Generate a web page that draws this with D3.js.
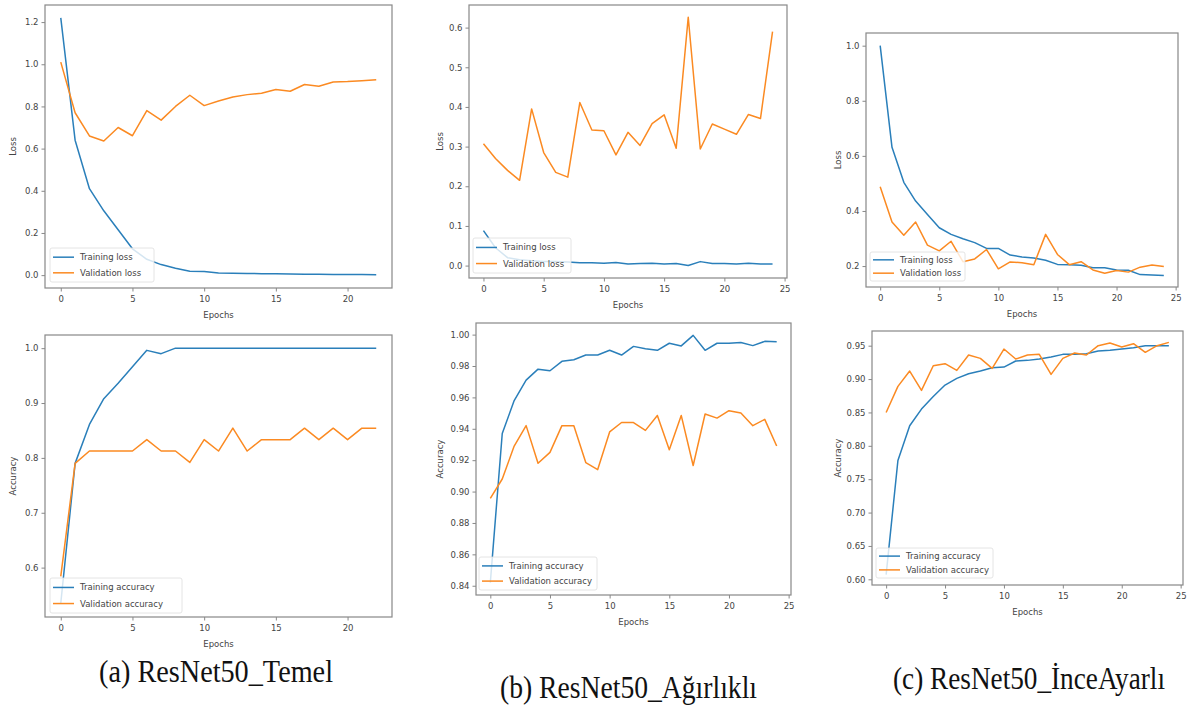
<!DOCTYPE html>
<html><head><meta charset="utf-8">
<script src="https://cdn.jsdelivr.net/npm/d3@7"></script>
<style>body{margin:0;background:#fff}svg{display:block}</style></head>
<body><svg id="c" width="1192" height="707"></svg>
<script>
// ---------- data ----------
const tempTrainLoss = [1.22,0.64,0.41,0.305,0.215,0.125,0.075,0.05,0.033,0.018,0.017,0.01,0.009,0.008,0.007,0.006,0.005,0.004,0.004,0.003,0.003,0.003,0.002];
const tempValLoss   = [1.01,0.77,0.66,0.636,0.70,0.661,0.78,0.735,0.80,0.853,0.804,0.826,0.845,0.856,0.863,0.88,0.872,0.904,0.896,0.916,0.918,0.922,0.927];
const tempTrainAcc  = [0.535,0.79,0.861,0.908,0.936,0.966,0.996,0.99,1.0,1.0,1.0,1.0,1.0,1.0,1.0,1.0,1.0,1.0,1.0,1.0,1.0,1.0,1.0];
const tempValAcc    = [0.584,0.79,0.8125,0.8125,0.8125,0.8125,0.8333,0.8125,0.8125,0.7917,0.8333,0.8125,0.8542,0.8125,0.8333,0.8333,0.8333,0.8542,0.8333,0.8542,0.8333,0.8542,0.8542];

const agirTrainLoss = [0.088,0.045,0.02,0.015,0.012,0.01,0.01,0.009,0.007,0.007,0.006,0.008,0.004,0.005,0.006,0.004,0.005,0.0,0.01,0.005,0.005,0.004,0.006,0.004,0.004];
const agirValLoss   = [0.307,0.27,0.24,0.215,0.395,0.285,0.235,0.223,0.411,0.342,0.34,0.279,0.336,0.303,0.358,0.38,0.296,0.626,0.294,0.357,0.344,0.331,0.381,0.371,0.59];
const agirTrainAcc  = [0.842,0.937,0.958,0.971,0.978,0.977,0.983,0.984,0.987,0.987,0.99,0.987,0.9925,0.991,0.99,0.9945,0.9928,0.9995,0.99,0.9945,0.9945,0.995,0.993,0.9957,0.9955];
const agirValAcc    = [0.8957,0.908,0.929,0.942,0.918,0.925,0.942,0.942,0.9185,0.914,0.938,0.944,0.944,0.939,0.9485,0.9266,0.9485,0.9166,0.9494,0.9468,0.9515,0.95,0.942,0.946,0.929];

const inceTrainLoss = [1.0,0.631,0.504,0.436,0.387,0.339,0.315,0.299,0.285,0.264,0.264,0.24,0.233,0.229,0.221,0.206,0.205,0.203,0.194,0.194,0.186,0.185,0.169,0.168,0.166];
const inceValLoss   = [0.488,0.36,0.312,0.36,0.276,0.255,0.29,0.216,0.226,0.26,0.19,0.215,0.212,0.205,0.315,0.242,0.205,0.216,0.186,0.174,0.184,0.178,0.196,0.204,0.198];
const inceTrainAcc  = [0.607,0.778,0.83,0.855,0.874,0.891,0.901,0.908,0.912,0.917,0.918,0.927,0.928,0.93,0.933,0.937,0.937,0.938,0.942,0.943,0.945,0.947,0.95,0.95,0.95];
const inceValAcc    = [0.85,0.889,0.912,0.883,0.92,0.923,0.913,0.936,0.931,0.916,0.945,0.93,0.936,0.937,0.907,0.931,0.939,0.936,0.95,0.954,0.948,0.953,0.94,0.95,0.955];

const xTicksA   = [0,5,10,15,20];
const xTicksBC  = [0,5,10,15,20,25];
const lossTicksA = [0.0,0.2,0.4,0.6,0.8,1.0,1.2];
const accTicksA  = [0.6,0.7,0.8,0.9,1.0];
const lossTicksB = [0.0,0.1,0.2,0.3,0.4,0.5,0.6];
const accTicksB  = [0.84,0.86,0.88,0.90,0.92,0.94,0.96,0.98,1.00];
const lossTicksC = [0.2,0.4,0.6,0.8,1.0];
const accTicksC  = [0.60,0.65,0.70,0.75,0.80,0.85,0.90,0.95];

const lossNames = ['Training loss','Validation loss'];
const accNames  = ['Training accuracy','Validation accuracy'];
const captions  = ['(a) ResNet50_Temel','(b) ResNet50_Ağırlıklı','(c) ResNet50_İnceAyarlı'];

// ---------- layout ----------
const panels = [
  {r:[45,5,392,288],   xd:[-1.1,23.1], yd:[-0.061,1.281], xt:xTicksA,  yt:lossTicksA, f:'.1f', s:[tempTrainLoss,tempValLoss], names:lossNames, ylab:'Loss', ylx:13, leg:[50,248,154,282]},
  {r:[45,335,392,617], xd:[-1.1,23.1], yd:[0.51,1.024],   xt:xTicksA,  yt:accTicksA,  f:'.1f', s:[tempTrainAcc,tempValAcc],   names:accNames,  ylab:'Accuracy', ylx:13, leg:[50,578,182,613]},
  {r:[469,5,787,278],  xd:[-1.2,25.2], yd:[-0.0313,0.657],xt:xTicksBC, yt:lossTicksB, f:'.1f', s:[agirTrainLoss,agirValLoss], names:lossNames, ylab:'Loss', ylx:440, leg:[473,238,571,273]},
  {r:[476,323,791,595],xd:[-1.2,25.2], yd:[0.8341,1.0074],xt:xTicksBC, yt:accTicksB,  f:'.2f', s:[agirTrainAcc,agirValAcc],   names:accNames,  ylab:'Accuracy', ylx:440, leg:[479,557,597,590]},
  {r:[866,33,1178,287],xd:[-1.2,25.2], yd:[0.124,1.046],  xt:xTicksBC, yt:lossTicksC, f:'.1f', s:[inceTrainLoss,inceValLoss], names:lossNames, ylab:'Loss', ylx:838, leg:[870,252,965,281]},
  {r:[872,331,1183,585],xd:[-1.2,25.2],yd:[0.5915,0.972], xt:xTicksBC, yt:accTicksC,  f:'.2f', s:[inceTrainAcc,inceValAcc],   names:accNames,  ylab:'Accuracy', ylx:838, leg:[876,548,993,578]}
];
const colors = ['#2a7fba','#fb8a22'];
const font = 'DejaVu Sans';
const txt = '#444';
const svg = d3.select('#c');

panels.forEach(p => {
  const [x0,y0,x1,y1] = p.r;
  const x = d3.scaleLinear().domain(p.xd).range([x0,x1]);
  const y = d3.scaleLinear().domain(p.yd).range([y1,y0]);
  const g = svg.append('g');

  const line = d3.line().x((d,i)=>x(i)).y(d=>y(d));
  p.s.forEach((ser,k)=>{
    g.append('path').attr('d',line(ser)).attr('fill','none')
      .attr('stroke',colors[k]).attr('stroke-width',1.5).attr('stroke-linejoin','round');
  });

  g.append('rect').attr('x',x0).attr('y',y0).attr('width',x1-x0).attr('height',y1-y0)
    .attr('fill','none').attr('stroke','#888').attr('stroke-width',1.2);

  const xa = d3.axisBottom(x).tickValues(p.xt).tickFormat(d3.format('d')).tickSize(3.5).tickPadding(4);
  const ya = d3.axisLeft(y).tickValues(p.yt).tickFormat(d3.format(p.f)).tickSize(3.5).tickPadding(3);
  const gx = g.append('g').attr('transform',`translate(0,${y1})`).call(xa);
  const gy = g.append('g').attr('transform',`translate(${x0},0)`).call(ya);
  [gx,gy].forEach(a=>{
    a.select('.domain').remove();
    a.selectAll('line').attr('stroke','#888');
    a.selectAll('text').attr('fill',txt).attr('font-family',font).attr('font-size',8.5);
  });

  g.append('text').attr('x',(x0+x1)/2).attr('y',y1+27).attr('text-anchor','middle')
    .attr('dominant-baseline','central').attr('font-family',font).attr('font-size',8.5).attr('fill',txt).text('Epochs');
  g.append('text').attr('transform',`translate(${p.ylx},${(y0+y1)/2}) rotate(-90)`).attr('text-anchor','middle')
    .attr('dominant-baseline','central').attr('font-family',font).attr('font-size',8.5).attr('fill',txt).text(p.ylab);

  const [lx0,ly0,lx1,ly1] = p.leg;
  const lg = g.append('g');
  lg.append('rect').attr('x',lx0).attr('y',ly0).attr('width',lx1-lx0).attr('height',ly1-ly0)
    .attr('rx',2).attr('fill','#fff').attr('fill-opacity',0.8).attr('stroke','#ddd').attr('stroke-width',0.8);
  p.names.forEach((nm,k)=>{
    const ly = ly0 + (ly1-ly0)*(k===0?0.27:0.73);
    lg.append('line').attr('x1',lx0+3).attr('x2',lx0+24).attr('y1',ly).attr('y2',ly)
      .attr('stroke',colors[k]).attr('stroke-width',1.5);
    lg.append('text').attr('x',lx0+30).attr('y',ly).attr('dominant-baseline','central')
      .attr('font-family',font).attr('font-size',8.5).attr('fill',txt).text(nm);
  });
});

// captions (slightly condensed serif, as in the reference)
const capPos = [[99,333,672],[500,757,688],[893,1165,679]];
captions.forEach((c,i)=>{
  const [a,b,cy] = capPos[i];
  svg.append('text').attr('transform',`translate(${a},${cy+10}) scale(1,1.1)`)
    .attr('font-family','Liberation Serif').attr('font-size',28).attr('fill','#111')
    .attr('textLength',b-a).attr('lengthAdjust','spacingAndGlyphs').text(c);
});
</script></body></html>
